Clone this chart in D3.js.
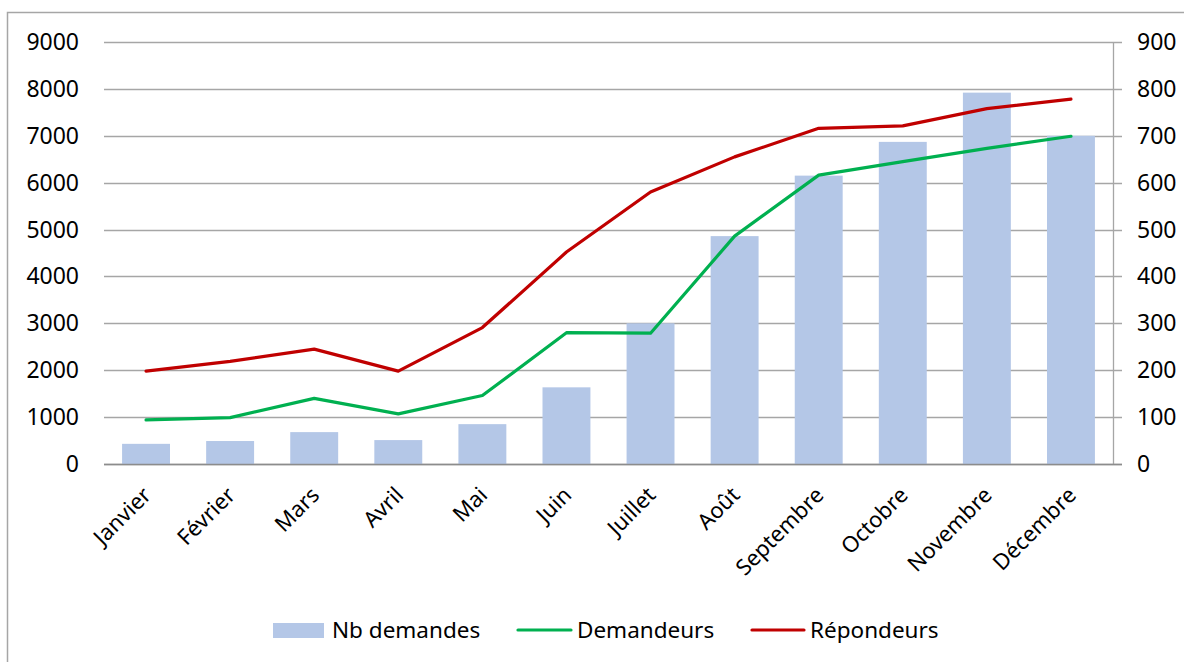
<!DOCTYPE html>
<html><head><meta charset="utf-8">
<script src="https://cdn.jsdelivr.net/npm/d3@7"></script>
<style>body{margin:0;background:#fff;} text{font-family:"Noto Sans",sans-serif;fill:#000;}</style>
</head><body>
<svg id="c" width="1184" height="662"></svg>
<script>
const categories = ["Janvier","Février","Mars","Avril","Mai","Juin","Juillet","Août","Septembre","Octobre","Novembre","Décembre"];
const nbDemandes = [430,490,680,510,850,1635,3000,4860,6150,6870,7920,7000];
const demandeurs = [94,99,140,107,146,280,279,486,616,645,673,699];
const repondeurs = [198,219,245,198,291,452,580,655,716,721,758,778];
const leftTicks = [0,1000,2000,3000,4000,5000,6000,7000,8000,9000];
const rightTicks = [0,100,200,300,400,500,600,700,800,900];
const seriesNames = ["Nb demandes","Demandeurs","Répondeurs"];
const colors = {bar:"#B4C7E7", green:"#00B050", red:"#C00000", grid:"#A6A6A6"};

const svg = d3.select("#c");
svg.append("rect").attr("x",7.5).attr("y",12.5).attr("width",1200).attr("height",700)
  .attr("fill","#fff").attr("stroke","#A6A6A6").attr("stroke-width",1.5);

const L=104, R=1113, T=42, B=464;
const x = d3.scaleBand().domain(categories).range([L,R]).paddingInner(0.43).paddingOuter(0.215);
const yL = d3.scaleLinear().domain([0,9000]).range([B,T]);
const yR = d3.scaleLinear().domain([0,900]).range([B,T]);

// gridlines
svg.append("g").selectAll("line").data(leftTicks).join("line")
  .attr("x1",L).attr("x2",R+9).attr("y1",d=>Math.round(yL(d))+0.5).attr("y2",d=>Math.round(yL(d))+0.5)
  .attr("stroke",colors.grid).attr("stroke-width",1.3);
// right axis line
svg.append("line").attr("x1",R+0.5).attr("x2",R+0.5).attr("y1",T).attr("y2",B).attr("stroke",colors.grid).attr("stroke-width",1.3);

// bars
svg.append("g").selectAll("rect").data(nbDemandes).join("rect")
  .attr("x",(d,i)=>x(categories[i])).attr("width",x.bandwidth())
  .attr("y",d=>yL(d)).attr("height",d=>B-yL(d)).attr("fill",colors.bar);
// redraw baseline
svg.append("line").attr("x1",L).attr("x2",R+9).attr("y1",B+0.5).attr("y2",B+0.5).attr("stroke","#8C8C8C").attr("stroke-width",1.3);

const cx = c => x(c)+x.bandwidth()/2;
const line = d3.line().x((d,i)=>cx(categories[i])).y(d=>yR(d));
svg.append("path").datum(demandeurs).attr("d",line).attr("fill","none").attr("stroke",colors.green).attr("stroke-width",3.2).attr("stroke-linecap","round").attr("stroke-linejoin","round");
svg.append("path").datum(repondeurs).attr("d",line).attr("fill","none").attr("stroke",colors.red).attr("stroke-width",3.2).attr("stroke-linecap","round").attr("stroke-linejoin","round");

// left axis labels
svg.append("g").selectAll("text").data(leftTicks).join("text")
  .attr("x",79).attr("y",d=>yL(d)).attr("dy","0.35em").attr("text-anchor","end")
  .style("font-size","23px").text(d=>d);
// right axis labels
svg.append("g").selectAll("text").data(rightTicks).join("text")
  .attr("x",1137).attr("y",d=>yR(d)).attr("dy","0.35em").attr("text-anchor","start")
  .style("font-size","23px").text(d=>d);
// x labels
svg.append("g").selectAll("text").data(categories).join("text")
  .attr("transform",d=>`translate(${cx(d)+1},${B+27}) rotate(-45)`)
  .attr("text-anchor","end").attr("dy","0.35em")
  .style("font-size","22px").text(d=>d);

// legend
const lg = svg.append("g").style("font-size","22.5px");
lg.append("rect").attr("x",273).attr("y",623).attr("width",51).attr("height",15).attr("fill",colors.bar);
lg.append("text").attr("x",332).attr("y",630).attr("dy","0.35em").text(seriesNames[0]);
lg.append("line").attr("x1",518).attr("x2",571).attr("y1",630).attr("y2",630).attr("stroke",colors.green).attr("stroke-width",3.2).attr("stroke-linecap","round");
lg.append("text").attr("x",577).attr("y",630).attr("dy","0.35em").text(seriesNames[1]);
lg.append("line").attr("x1",752).attr("x2",804).attr("y1",630).attr("y2",630).attr("stroke",colors.red).attr("stroke-width",3.2).attr("stroke-linecap","round");
lg.append("text").attr("x",810).attr("y",630).attr("dy","0.35em").text(seriesNames[2]);
</script>
</body></html>
